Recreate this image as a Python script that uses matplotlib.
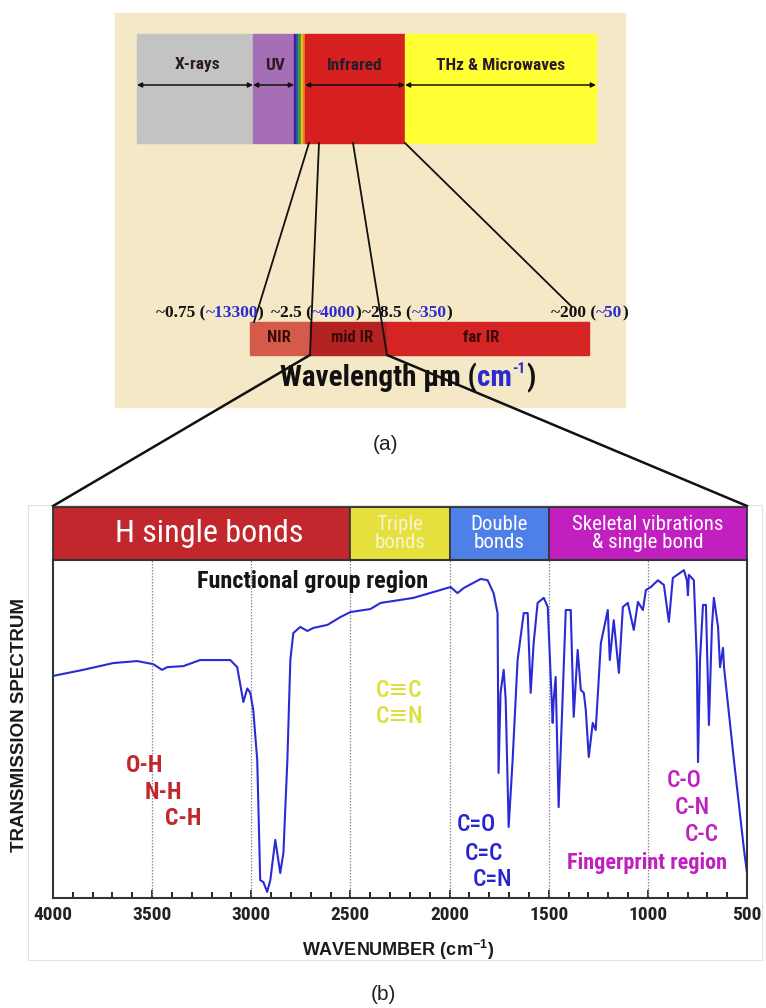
import matplotlib
matplotlib.use('Agg')
import matplotlib.pyplot as plt
import matplotlib.font_manager as fm
from matplotlib.patches import Rectangle

# ---- data ----
# panel (a): electromagnetic spectrum bands
em_bands = ['X-rays', 'UV', 'Infrared', 'THz & Microwaves']
em_colors = ['#c3c3c3', '#a66fb5', '#d62020', '#ffff33']
visible_colors = ['#4b1c8a', '#2a4fc0', '#3a9a3a', '#e8c020', '#f08020']
ir_bands = ['NIR', 'mid IR', 'far IR']
ir_colors = ['#d45a4a', '#b52222', '#d42424']
ir_wavelength = ['~0.75', '~2.5', '~28.5', '~200']
ir_wavenumber = ['~13300', '~4000', '~350', '~50']

# panel (b): IR spectrum
bond_edges = [4000, 2500, 2000, 1500, 500]
bond_labels = ['H single bonds', 'Triple\nbonds', 'Double\nbonds', 'Skeletal vibrations\n& single bond']
bond_colors = ['#c1272d', '#e6e03c', '#4f80e8', '#c21fc0']
bond_text_colors = ['white', '#f6f2d2', 'white', 'white']

wavenumber = [4000, 3848, 3697, 3576, 3495, 3450, 3424, 3343, 3258, 3106, 3071, 3040, 3020, 3005,
              2990, 2970, 2955, 2939, 2920, 2904, 2879, 2854, 2838, 2818, 2803, 2788, 2753, 2717,
              2687, 2616, 2551, 2500, 2399, 2348, 2247, 2182, 1995, 1960, 1929, 1843, 1808, 1778,
              1758, 1753, 1743, 1727, 1717, 1702, 1682, 1657, 1626, 1606, 1591, 1576, 1556, 1525,
              1505, 1490, 1480, 1475, 1465, 1450, 1429, 1414, 1389, 1374, 1354, 1338, 1323, 1313,
              1298, 1278, 1263, 1237, 1202, 1192, 1172, 1146, 1126, 1101, 1071, 1050, 1025, 1010,
              985, 949, 919, 894, 874, 818, 803, 798, 793, 768, 753, 747, 737, 722, 707, 692, 677,
              667, 646, 636, 621, 616, 566, 515, 500]
transmission = [65.7, 67.5, 69.5, 70.1, 69.2, 67.5, 68.3, 68.6, 70.4, 70.4, 68.3, 58, 62, 60.7,
                55.6, 40.8, 5.3, 4.7, 1.8, 5.3, 17.2, 7.4, 13.3, 40.8, 70.4, 78.4, 80.2, 79,
                79.9, 80.8, 83.1, 84.6, 85.5, 87.3, 88.2, 88.8, 92, 90.2, 91.7, 94.4, 94, 90.2,
                84.3, 37, 60.7, 67.5, 58.6, 21, 40.8, 70.4, 84.3, 84.3, 60.7, 75.4, 87.3, 88.8,
                86.1, 65.4, 51.8, 58.6, 65.4, 26.9, 60.7, 85.2, 85.2, 53.6, 73.4, 61.5, 60.7, 55.6,
                41.7, 51.8, 49.7, 75.4, 85.2, 70.4, 82.2, 66.6, 86.1, 87.3, 79.3, 87.6, 85.2, 91.1,
                92, 94, 92.6, 81.7, 94.7, 97, 94, 89.6, 95.6, 94, 70.4, 40.2, 70.4, 86.7, 86.7, 51.2, 80.2,
                88.8, 80.2, 68.3, 74, 68.3, 40.8, 14.2, 7.4]

# ---- fonts ----
installed = {f.name for f in fm.fontManager.ttflist}


def pick(*names):
    for n in names:
        if n in installed:
            return n
    return 'DejaVu Sans'


narrow = [pick('Liberation Sans Narrow', 'Roboto Condensed', 'Roboto'), 'DejaVu Sans']
serif = pick('Liberation Serif', 'DejaVu Serif')
arial = pick('Liberation Sans', 'DejaVu Sans')

W, H = 766, 1008
fig = plt.figure(figsize=(W / 100, H / 100), dpi=100)

# overlay in pixel coords for the schematic (a)
ov = fig.add_axes([0, 0, 1, 1])
ov.set_xlim(0, W)
ov.set_ylim(H, 0)
ov.axis('off')

ov.add_patch(Rectangle((115, 13), 510, 394, color='#f5e8c6', zorder=0))
# frame of panel (b)
ov.add_patch(Rectangle((28, 505), 734, 455, fill=False, edgecolor='#e2e2e2', lw=0.8, zorder=0))

# top spectrum bar
top_edges = [137, 253, 294, 305, 405, 596]
ov.add_patch(Rectangle((top_edges[0], 34), top_edges[1] - top_edges[0], 109, color=em_colors[0]))
ov.add_patch(Rectangle((top_edges[1], 34), top_edges[2] - top_edges[1], 109, color=em_colors[1]))
for i, c in enumerate(visible_colors):
    ov.add_patch(Rectangle((294 + i * 2.2, 34), 2.2, 109, color=c))
ov.add_patch(Rectangle((top_edges[3], 34), top_edges[4] - top_edges[3], 109, color=em_colors[2]))
ov.add_patch(Rectangle((top_edges[4], 34), top_edges[5] - top_edges[4], 109, color=em_colors[3]))

arrow_spans = [(137, 253), (253, 294), (305, 405), (405, 596)]
label_x = [198, 275, 355, 501]
for (a, b), name, lx in zip(arrow_spans, em_bands, label_x):
    ov.annotate('', xy=(b, 85), xytext=(a, 85),
                arrowprops=dict(arrowstyle='<|-|>', color='#111', lw=1.1,
                                mutation_scale=7, shrinkA=0, shrinkB=0))
    ov.text(lx, 65, name, ha='center', va='center', fontsize=12.5, fontweight='bold',
            family=narrow, color='#2a1a2a')

# zoom lines from infrared to the IR bar
for (x0, y0), (x1, y1) in [((309, 143), (254, 322)), ((319, 143), (310, 355)),
                           ((353, 143), (387, 355)), ((405, 143), (572, 307))]:
    ov.plot([x0, x1], [y0, y1], color='#111', lw=1.3, zorder=3)

# IR sub-bar
ir_edges = [250, 310, 387, 589]
ir_label_x = [279, 352, 481]
for i in range(3):
    ov.add_patch(Rectangle((ir_edges[i], 322), ir_edges[i + 1] - ir_edges[i], 33,
                           color=ir_colors[i], zorder=2))
    ov.text(ir_label_x[i], 338, ir_bands[i], ha='center', va='center', fontsize=12,
            fontweight='bold', family=narrow, color='#3a0a0a', zorder=4)

# wavelength (wavenumber) labels
fig.canvas.draw()
renderer = fig.canvas.get_renderer()
start_x = [156, 271, 362, 551]
for sx, wl, wn in zip(start_x, ir_wavelength, ir_wavenumber):
    x = sx
    for s, c in [(wl + ' (', '#111'), (wn, '#2b2bd0'), (')', '#111')]:
        t = ov.text(x, 313, s, ha='left', va='center', fontsize=12.5, fontweight='bold',
                    family=serif, color=c)
        x = t.get_window_extent(renderer).x1

x = 280
for s, c, fs, dy in [('Wavelength \u03bcm (', '#111', 21, 0), ('cm', '#2b2bd0', 21, 0),
                     ('-1', '#2b2bd0', 11, -9), (')', '#111', 21, 0)]:
    t = ov.text(x, 378 + dy, s, ha='left', va='center', fontsize=fs, fontweight='bold',
                family=narrow, color=c, zorder=2)
    x = t.get_window_extent(renderer).x1 + (1 if fs < 20 else 0)

ov.plot([310, 53], [355, 506], color='#111', lw=1.8, zorder=5)
ov.plot([387, 747], [355, 506], color='#111', lw=1.8, zorder=5)

ov.text(385, 445, '(a)', ha='center', va='center', fontsize=15, family=arial, color='#222')
ov.text(383, 995, '(b)', ha='center', va='center', fontsize=15, family=arial, color='#222')

# ---- panel (b) header band ----
hb = fig.add_axes([53 / W, 1 - 560 / H, 694 / W, 53 / H])
hb.set_xlim(4000, 500)
hb.set_ylim(0, 1)
hb.set_xticks([])
hb.set_yticks([])
for i in range(4):
    hb.axvspan(bond_edges[i], bond_edges[i + 1], facecolor=bond_colors[i],
               edgecolor='#333', lw=1.2)
    mid = (bond_edges[i] + bond_edges[i + 1]) / 2
    fs = 23 if i == 0 else 15
    hb.text(mid - (40 if i == 0 else 0), 0.5, bond_labels[i], ha='center', va='center',
            fontsize=fs, family=narrow, color=bond_text_colors[i], linespacing=1.0)
for sp in hb.spines.values():
    sp.set_color('#333')
    sp.set_linewidth(1.3)

# ---- panel (b) spectrum ----
ax = fig.add_axes([53 / W, 1 - 898 / H, 694 / W, 338 / H])
ax.set_xlim(4000, 500)
ax.set_ylim(0, 100)
ax.vlines([3500, 3000, 2500, 2000, 1500, 1000], 0, 100, colors='#8a8a8a', lw=0.9,
          linestyles=(0, (1.2, 1.2)))
ax.plot(wavenumber, transmission, color='#2a2ad6', lw=1.5)

ax.set_xticks([4000, 3500, 3000, 2500, 2000, 1500, 1000, 500])
ax.set_xticks(range(600, 4000, 100), minor=True)
ax.set_yticks([])
ax.tick_params(axis='x', which='major', direction='in', length=6, width=1.3, pad=6,
               labelsize=14, colors='#222')
ax.tick_params(axis='x', which='minor', direction='in', length=4, width=1.2)
for lab in ax.get_xticklabels():
    lab.set_family(narrow)
    lab.set_fontweight('bold')
for sp in ax.spines.values():
    sp.set_color('#333')
    sp.set_linewidth(1.5)

ax.text(2692, 93.5, 'Functional group region', ha='center', va='center', fontsize=17.5,
        fontweight='bold', family=narrow, color='#151515')
for s, wn, tr in [('O-H', 3540, 39.3), ('N-H', 3444, 31.1), ('C-H', 3343, 23.4)]:
    ax.text(wn, tr, s, ha='center', va='center', fontsize=17, fontweight='bold',
            family=narrow, color='#c1272d')
for s, wn, tr in [('C\u2261C', 2253, 61.5), ('C\u2261N', 2253, 53.6)]:
    ax.text(wn, tr, s, ha='center', va='center', fontsize=17, fontweight='medium',
            family=narrow, color='#dede3a')
for s, wn, tr in [('C=O', 1864, 21.6), ('C=C', 1828, 13.3), ('C=N', 1783, 5.6)]:
    ax.text(wn, tr, s, ha='center', va='center', fontsize=17, fontweight='medium',
            family=narrow, color='#2626d0')
for s, wn, tr in [('C-O', 818, 34.9), ('C-N', 773, 26.9), ('C-C', 727, 18.9),
                  ('Fingerprint region', 1005, 10.4)]:
    ax.text(wn, tr, s, ha='center', va='center', fontsize=17 if len(s) == 3 else 16,
            fontweight='bold' if len(s) > 3 else 'medium', family=narrow, color='#c020c0')

fig.text(20 / W, 1 - 725 / H, 'TRANSMISSION SPECTRUM', rotation=90, ha='center', va='center',
         fontsize=13.5, fontweight='bold', family=arial, color='#1a1a1a')
fig.text(398 / W, 1 - 950 / H, 'WAVENUMBER (cm$^{\\mathregular{-1}}$)', ha='center', va='center',
         fontsize=13, fontweight='bold', family=arial, color='#1a1a1a')

fig.savefig('out.png', dpi=100)
